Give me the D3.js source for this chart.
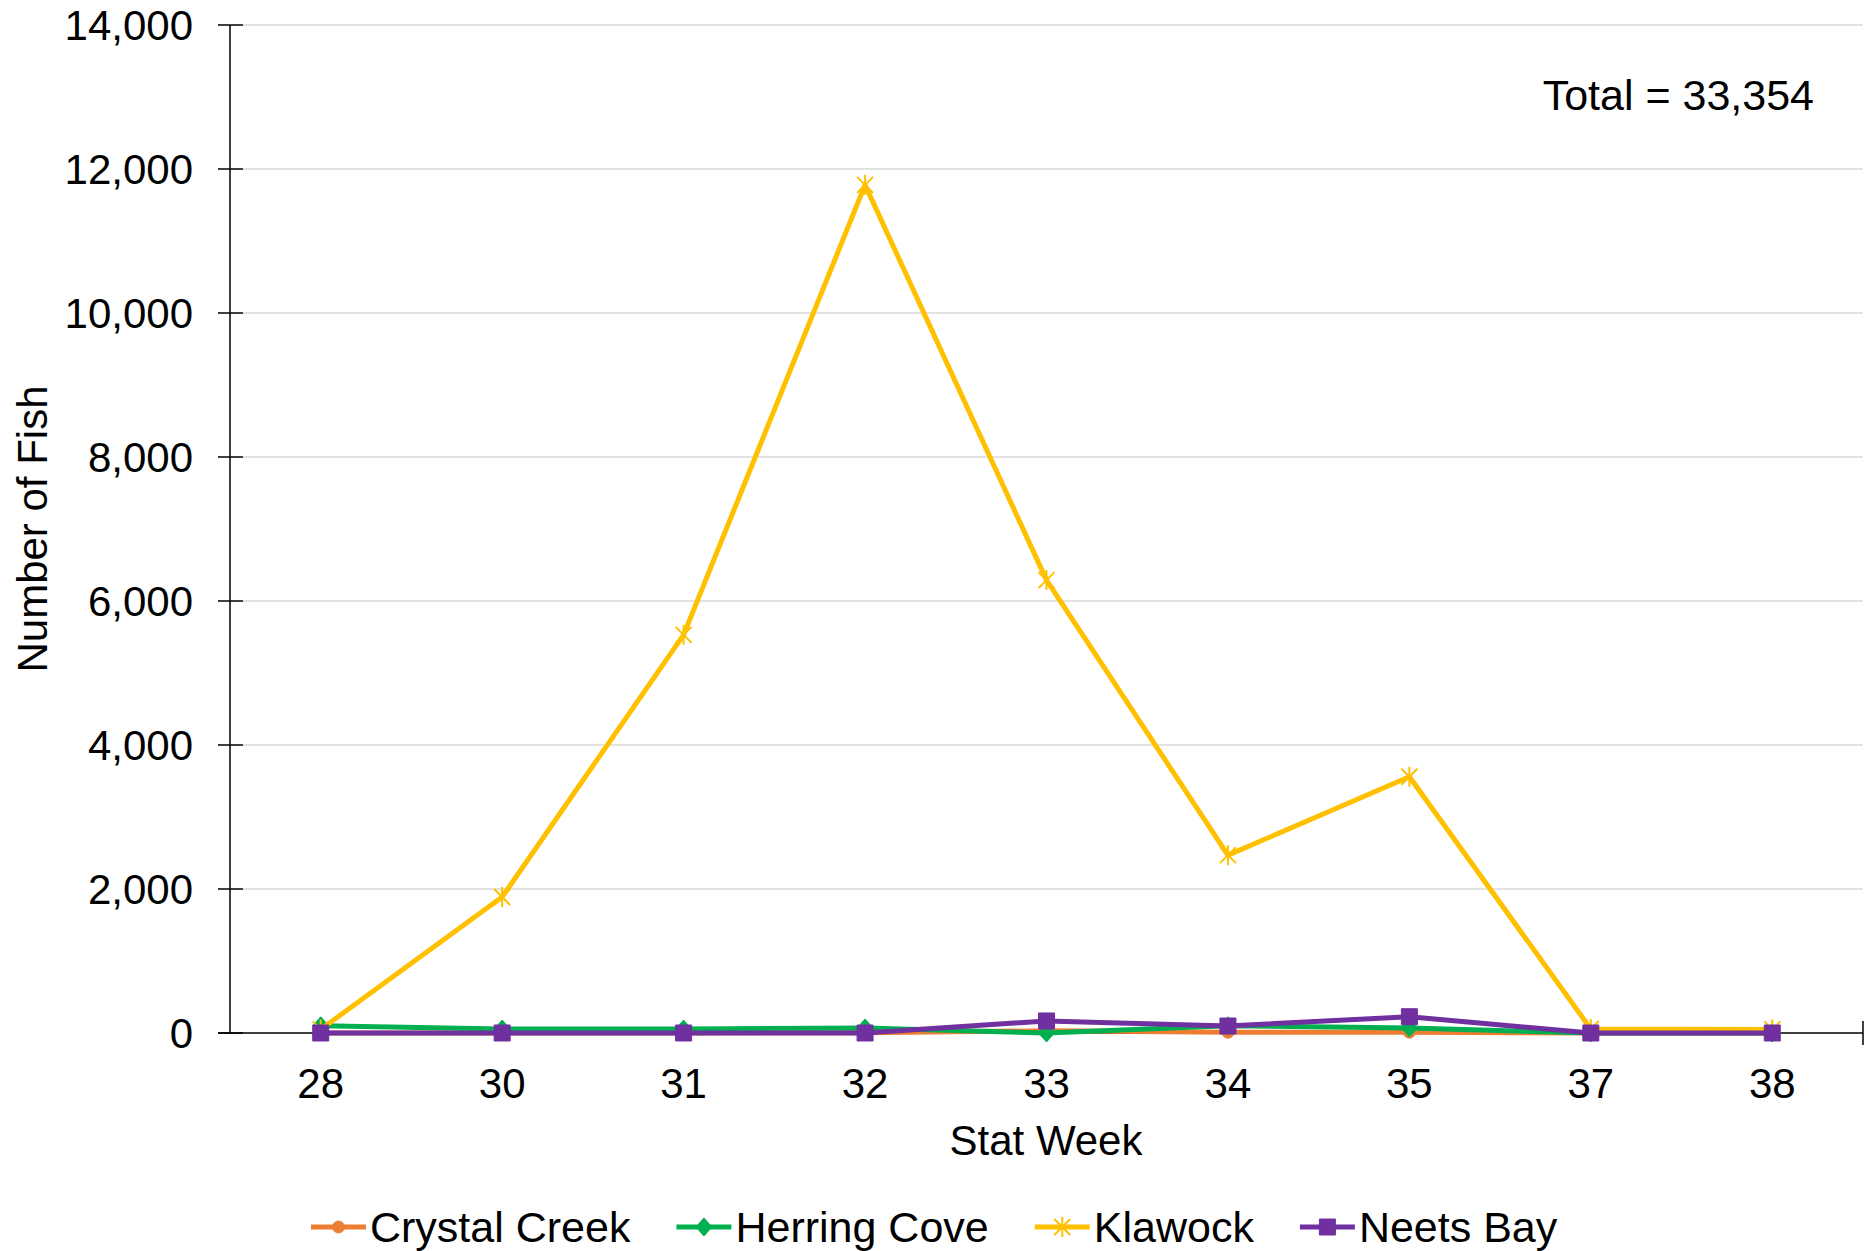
<!DOCTYPE html>
<html>
<head>
<meta charset="utf-8">
<title>Number of Fish by Stat Week</title>
<script src="https://cdn.jsdelivr.net/npm/d3@7"></script>
<style>
	body, html { margin: 0; background: #fff; overflow: hidden; }
	text { font-family: "Liberation Sans", Arial, sans-serif; fill: #000; }
	.grid line { stroke: #d9d9d9; stroke-width: 1.5; }
	.axis path, .axis line { stroke: #000; stroke-width: 1.5; fill: none; }
	.series path.line { fill: none; stroke-width: 5; stroke-linejoin: round; }
</style>
</head>
<body>
<div id="chart"></div>
<script>
	// stat weeks on the x axis
	var weeks = ["28", "30", "31", "32", "33", "34", "35", "37", "38"];
	var yTicks = [0, 2000, 4000, 6000, 8000, 10000, 12000, 14000];

	// values
	var crystalCreek = [0, 0, 0, 5, 30, 10, 10, 0, 0];
	var herringCove = [100, 55, 55, 70, 0, 100, 70, 0, 0];
	var klawock = [50, 1890, 5530, 11780, 6290, 2470, 3560, 55, 50];
	var neetsBay = [0, 0, 0, 0, 167, 97, 226, 0, 0];

	var seriesNames = ["Crystal Creek", "Herring Cove", "Klawock", "Neets Bay"];
	var seriesColors = ["#ED7D31", "#00B050", "#FFC000", "#7030A0"];
	var seriesMarkers = ["circle", "diamond", "star", "square"];
	var totalLabel = "Total = 33,354";

	var w = 1868, h = 1251;
	var plotLeft = 230, plotRight = 1863, plotTop = 25, plotBottom = 1033;

	var svg = d3.select("#chart").append("svg")
		.attr("width", w)
		.attr("height", h);

	var x = d3.scaleBand().domain(weeks).range([plotLeft, plotRight]);
	var y = d3.scaleLinear().domain([0, 14000]).range([plotBottom, plotTop]);
	var fmt = d3.format(",");

	// gridlines
	svg.append("g").attr("class", "grid")
		.selectAll("line").data(yTicks.filter(function (d) { return d > 0; }))
		.enter().append("line")
		.attr("x1", plotLeft + 13).attr("x2", plotRight)
		.attr("y1", function (d) { return y(d); })
		.attr("y2", function (d) { return y(d); });

	// y axis (cross ticks)
	var yAxis = svg.append("g").attr("class", "axis");
	yAxis.append("line")
		.attr("x1", plotLeft).attr("x2", plotLeft)
		.attr("y1", plotTop).attr("y2", plotBottom);
	yAxis.selectAll(".tick").data(yTicks)
		.enter().append("line")
		.attr("x1", plotLeft - 12).attr("x2", plotLeft + 13)
		.attr("y1", function (d) { return y(d); })
		.attr("y2", function (d) { return y(d); });
	yAxis.selectAll("text").data(yTicks)
		.enter().append("text")
		.attr("x", 193)
		.attr("y", function (d) { return y(d); })
		.attr("dy", "0.36em")
		.attr("text-anchor", "end")
		.style("font-size", "42px")
		.text(function (d) { return fmt(d); });

	// x axis
	var xAxis = svg.append("g").attr("class", "axis");
	xAxis.append("line")
		.attr("x1", plotLeft - 12).attr("x2", plotRight)
		.attr("y1", plotBottom).attr("y2", plotBottom);
	xAxis.append("line")
		.attr("x1", plotRight).attr("x2", plotRight)
		.attr("y1", plotBottom - 12).attr("y2", plotBottom + 12);
	xAxis.selectAll("text").data(weeks)
		.enter().append("text")
		.attr("x", function (d) { return x(d) + x.bandwidth() / 2; })
		.attr("y", 1083)
		.attr("dy", "0.36em")
		.attr("text-anchor", "middle")
		.style("font-size", "42px")
		.text(function (d) { return d; });

	// axis titles
	svg.append("text")
		.attr("x", 1046).attr("y", 1140)
		.attr("dy", "0.36em")
		.attr("text-anchor", "middle")
		.style("font-size", "42px")
		.text("Stat Week");
	svg.append("text")
		.attr("transform", "translate(32,529) rotate(-90)")
		.attr("dy", "0.36em")
		.attr("text-anchor", "middle")
		.style("font-size", "42px")
		.text("Number of Fish");

	svg.append("text")
		.attr("x", 1814).attr("y", 95)
		.attr("dy", "0.36em")
		.attr("text-anchor", "end")
		.style("font-size", "43px")
		.text(totalLabel);

	// marker shapes
	function markerPath(type) {
		if (type == "circle") return d3.symbol().type(d3.symbolCircle).size(110)();
		if (type == "diamond") return "M0,-9L8,0L0,9L-8,0Z";
		if (type == "square") return "M-8,-8H8V8H-8Z";
		// star: X plus vertical bar
		return "M-8,-8L8,8M-8,8L8,-8M0,-10V10";
	}

	function drawMarker(sel, type, color) {
		if (type == "star") {
			sel.attr("d", markerPath(type))
				.attr("fill", "none")
				.attr("stroke", color)
				.attr("stroke-width", 2);
		} else {
			sel.attr("d", markerPath(type))
				.attr("fill", color)
				.attr("stroke", color)
				.attr("stroke-width", 1);
		}
	}

	var allSeries = [crystalCreek, herringCove, klawock, neetsBay];

	var line = d3.line()
		.x(function (d, i) { return x(weeks[i]) + x.bandwidth() / 2; })
		.y(function (d) { return y(d); });

	allSeries.forEach(function (vals, k) {
		var g = svg.append("g").attr("class", "series");
		g.append("path")
			.attr("class", "line")
			.datum(vals)
			.attr("stroke", seriesColors[k])
			.attr("d", line);
		g.selectAll("path.marker").data(vals)
			.enter().append("path")
			.attr("class", "marker")
			.attr("transform", function (d, i) {
				return "translate(" + (x(weeks[i]) + x.bandwidth() / 2) + "," + y(d) + ")";
			})
			.call(drawMarker, seriesMarkers[k], seriesColors[k]);
	});

	// legend
	var legend = svg.append("g").attr("class", "legend");
	var lx = 311, ly = 1227;
	seriesNames.forEach(function (name, k) {
		var item = legend.append("g").attr("transform", "translate(" + lx + "," + ly + ")");
		item.append("line")
			.attr("x1", 0).attr("x2", 55)
			.attr("y1", 0).attr("y2", 0)
			.attr("stroke", seriesColors[k])
			.attr("stroke-width", 5);
		item.append("path")
			.attr("transform", "translate(27.5,0)")
			.call(drawMarker, seriesMarkers[k], seriesColors[k]);
		var t = item.append("text")
			.attr("x", 59)
			.attr("dy", "0.36em")
			.style("font-size", "43px")
			.text(name);
		lx += 59 + t.node().getComputedTextLength() + 46;
	});
</script>
</body>
</html>
